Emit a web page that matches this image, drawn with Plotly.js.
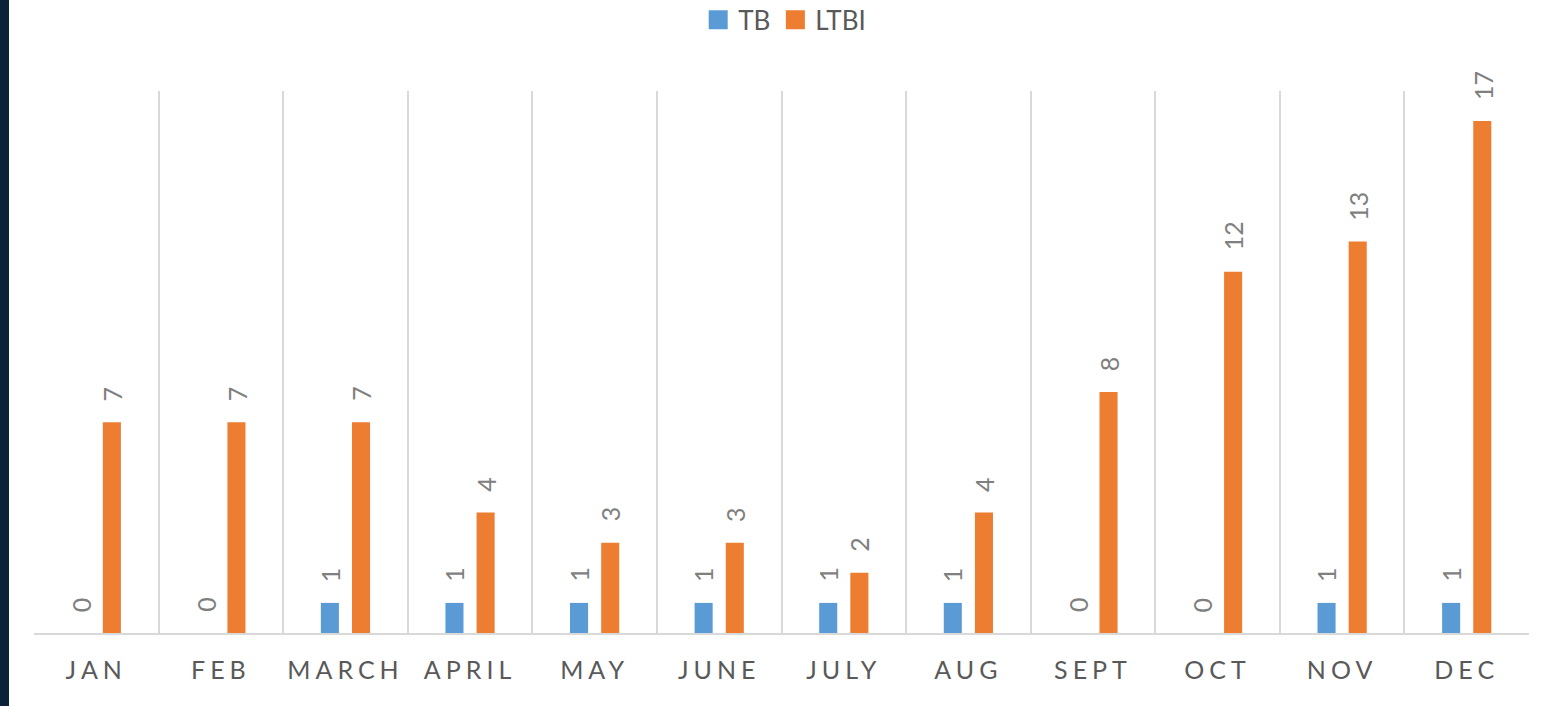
<!DOCTYPE html>
<html>
<head>
<meta charset="utf-8">
<script src="https://cdn.plot.ly/plotly-3.0.1.min.js"></script>
<style>
  html, body { margin: 0; padding: 0; width: 1542px; height: 706px; overflow: hidden; background: #0c2238; }
  #chart { position: absolute; left: 9px; top: 0; width: 1533px; height: 706px; background: #ffffff; }
  .xtick text { letter-spacing: 5px; }
  .legend .legendpoints path { d: path("M9.5,9.5H-9.5V-9.5H9.5Z"); }
</style>
</head>
<body>
<div id="chart"></div>
<script>
const months = ["JAN", "FEB", "MARCH", "APRIL", "MAY", "JUNE", "JULY", "AUG", "SEPT", "OCT", "NOV", "DEC"];
const tbValues = [0, 0, 1, 1, 1, 1, 1, 1, 0, 0, 1, 1];
const ltbiValues = [7, 7, 7, 4, 3, 3, 2, 4, 8, 12, 13, 17];
const seriesNames = ["TB", "LTBI"];
const seriesColors = ["#5b9bd5", "#ed7d31"];

const FONT = "Lato, 'Noto Sans', sans-serif";
const traces = [
  { type: "bar", name: seriesNames[0], x: months, y: tbValues, marker: { color: seriesColors[0] }, hoverinfo: "x+y+name" },
  { type: "bar", name: seriesNames[1], x: months, y: ltbiValues, marker: { color: seriesColors[1] }, hoverinfo: "x+y+name" }
];

// data labels above bars (rotated), positioned from the data values
const annotations = [];
[tbValues, ltbiValues].forEach(function (vals, s) {
  const off = s === 0 ? -0.125 : 0.125;
  vals.forEach(function (v, i) {
    annotations.push({
      x: i + off, y: v, xref: "x", yref: "y",
      text: String(v), showarrow: false, textangle: -90,
      yanchor: "bottom", xanchor: "center", yshift: 19,
      font: { family: FONT, size: 25, color: "#7f7f7f" }
    });
  });
});

const layout = {
  width: 1533, height: 706,
  margin: { l: 25, r: 13, t: 91, b: 73 },
  paper_bgcolor: "#ffffff", plot_bgcolor: "#ffffff",
  barmode: "group", bargap: 0.5, bargroupgap: 0.42,
  showlegend: true,
  legend: {
    orientation: "h", xref: "container", yref: "container",
    x: 0.506, y: 0.972, xanchor: "center", yanchor: "middle",
    font: { family: FONT, size: 26, color: "#595959" },
    bgcolor: "rgba(0,0,0,0)"
  },
  xaxis: {
    type: "category", range: [-0.5, 11.5], tickson: "boundaries",
    showgrid: true, gridcolor: "#d9d9d9", gridwidth: 2,
    showline: true, linecolor: "#d9d9d9", linewidth: 2,
    ticks: "", ticklabelstandoff: 14,
    tickfont: { family: FONT, size: 25, color: "#595959" },
    fixedrange: true
  },
  yaxis: {
    range: [0, 18], showgrid: false, zeroline: false, showline: false,
    showticklabels: false, ticks: "", fixedrange: true
  },
  annotations: annotations
};

Plotly.newPlot("chart", traces, layout, { displayModeBar: false, staticPlot: true });
</script>
</body>
</html>
